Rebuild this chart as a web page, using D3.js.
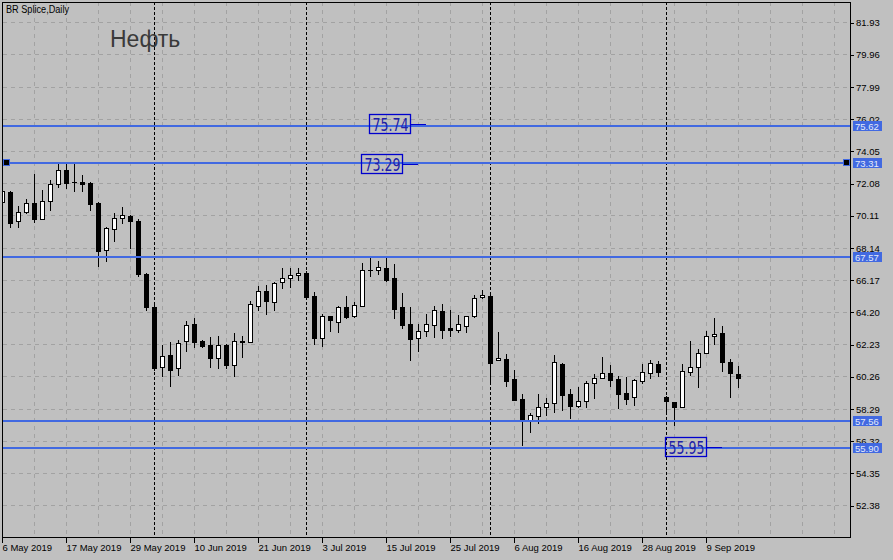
<!DOCTYPE html>
<html><head><meta charset="utf-8">
<script src="https://cdn.jsdelivr.net/npm/d3@7"></script>
<style>
html,body{margin:0;padding:0;background:#c0c0c0;overflow:hidden}
svg{display:block}
</style>
</head><body>
<svg id="chart" width="893" height="560"></svg>
<script>
// ---------------- DATA ----------------
const symbolTitle = "BR Splice,Daily";
const chartNote = "Нефть";
const openP  = [70.92,71.53,69.74,70.29,70.86,69.90,70.96,72.00,72.88,72.14,72.15,72.08,70.86,68.00,69.29,69.92,70.06,69.76,66.52,64.52,
                60.85,61.56,60.75,62.40,63.44,62.42,62.17,61.38,62.17,60.97,62.40,62.38,64.58,65.48,64.82,66.01,66.27,66.46,66.58,65.17,
                62.62,63.93,63.56,64.48,63.97,64.58,66.78,66.76,66.88,66.27,64.52,63.46,62.60,63.05,63.42,64.25,63.20,63.11,63.36,63.97,
                65.09,65.17,61.24,61.32,60.10,58.87,57.61,57.81,58.36,58.61,61.01,59.18,58.43,58.73,59.85,60.17,60.44,60.10,59.24,58.97,
                60.00,60.44,61.01,59.00,58.67,58.40,60.51,60.81,61.67,62.71,62.91,61.15,60.40];
const highP  = [71.75,71.60,70.70,71.10,72.63,71.66,72.27,73.35,73.30,73.35,72.57,72.14,70.90,69.37,70.23,70.60,70.10,69.88,66.60,64.62,
                62.17,62.34,62.50,63.66,63.83,62.48,62.65,62.70,62.24,62.91,62.71,64.85,65.80,65.84,66.01,66.86,66.90,66.88,66.70,65.43,
                64.07,63.95,64.58,65.19,64.82,67.19,67.54,67.31,67.48,67.13,65.36,64.48,63.46,64.07,64.54,64.68,64.32,64.03,63.95,65.23,
                65.54,65.23,62.95,61.62,60.66,59.18,58.02,59.18,58.93,61.56,61.07,59.48,59.63,59.95,60.40,61.42,60.94,60.30,60.24,60.09,
                61.01,61.26,61.22,59.06,58.69,61.01,62.40,61.93,63.01,63.83,63.32,61.32,60.87];
const lowP   = [70.75,69.39,69.37,70.25,69.72,69.90,70.43,71.82,71.78,71.61,71.61,70.45,66.98,67.33,68.55,69.62,68.09,66.40,64.33,60.65,
                60.26,59.69,60.36,61.83,62.03,62.07,60.81,60.75,60.75,60.30,61.46,62.36,64.33,64.07,64.33,65.64,65.70,66.17,65.05,62.24,
                62.13,63.05,62.95,63.83,63.87,64.56,66.41,66.52,66.11,63.83,63.21,61.26,61.81,62.74,62.68,62.60,62.74,62.95,62.95,63.91,
                65.03,59.93,61.23,59.69,58.81,56.06,56.84,57.39,57.89,58.06,58.22,57.69,58.36,58.36,58.93,60.16,59.69,58.34,58.57,58.50,
                59.83,60.14,60.30,58.10,57.30,58.36,60.34,59.59,61.66,62.24,60.60,58.97,59.63];
const closeP = [71.60,69.65,70.29,70.86,69.90,70.96,72.02,72.88,72.08,72.12,72.04,70.82,67.94,69.31,69.92,70.13,69.74,66.52,64.48,60.77,
                61.48,60.66,62.30,63.40,62.38,62.13,61.40,62.15,60.95,62.42,62.36,64.68,65.46,64.88,65.97,66.27,66.46,66.58,65.13,62.62,
                63.93,63.72,64.48,63.91,64.62,66.76,66.74,66.93,66.15,64.38,63.40,62.54,63.05,63.46,64.32,63.11,63.11,63.44,63.93,65.03,
                65.21,61.07,61.38,60.00,58.83,57.57,57.88,58.36,58.61,61.12,59.13,58.43,58.73,59.83,60.14,60.44,60.05,59.20,58.89,60.03,
                60.51,61.05,60.51,58.73,58.40,60.56,60.81,61.67,62.71,62.85,61.12,60.44,60.17];
const dateLabels   = ["6 May 2019","17 May 2019","29 May 2019","10 Jun 2019","21 Jun 2019","3 Jul 2019",
                      "15 Jul 2019","25 Jul 2019","6 Aug 2019","16 Aug 2019","28 Aug 2019","9 Sep 2019"];
const dateLabelBar = [0,8,16,24,32,40,48,56,64,72,80,88];
const monthStartBar = [19,38,61,83];
const priceTicks = [81.93,79.96,77.99,76.02,74.05,72.08,70.11,68.14,66.17,64.20,62.23,60.26,58.29,56.32,54.35,52.38];
const levelPrices = [75.62,73.31,67.57,57.56,55.90];
const selectedLevel = 73.31;
const notePrices = [75.74,73.29,55.95];
const noteBars   = [46,45,83];

// ---------------- LAYOUT ----------------
const svg = d3.select("#chart");
const L = 2, R = 850, B = 537, T = 2;
const nBars = openP.length;
const x = d3.scaleLinear().domain([0,106]).range([2,850]);
const y = d3.scaleLinear().domain([52.38,81.93]).range([505.6,22.6]);
const row = v => Math.round(y(v) - 0.5);
const col = i => Math.round(x(i));

svg.append("rect").attr("width",893).attr("height",560).attr("fill","#c0c0c0");

const defs = svg.append("defs");
defs.append("clipPath").attr("id","plot").append("rect")
  .attr("x",L+1).attr("y",T+1).attr("width",R-L-1).attr("height",B-T-1);

const plot = svg.append("g").attr("clip-path","url(#plot)");

// grid
const gridCol = "#a2a2a2";
plot.append("g").selectAll("line").data(priceTicks).join("line")
  .attr("x1",L+1).attr("x2",R).attr("y1",d=>row(d)+0.5).attr("y2",d=>row(d)+0.5)
  .attr("stroke",gridCol).attr("stroke-dasharray","4,4");
plot.append("g").selectAll("line").data(d3.range(4,106,4)).join("line")
  .attr("x1",d=>col(d)+0.5).attr("x2",d=>col(d)+0.5).attr("y1",T).attr("y2",B)
  .attr("stroke",gridCol).attr("stroke-dasharray","4,4");

// month separators
plot.append("g").selectAll("line").data(monthStartBar).join("line")
  .attr("x1",d=>col(d)+0.5).attr("x2",d=>col(d)+0.5).attr("y1",T).attr("y2",B)
  .attr("stroke","#000").attr("stroke-dasharray","3,2");

// candles
const bars = d3.range(nBars).map(i=>({i,o:openP[i],h:highP[i],l:lowP[i],c:closeP[i]}));
const cg = plot.append("g");
bars.forEach(b=>{
  const cx = col(b.i) + 0.5;
  const g = cg.append("g");
  g.append("line").attr("x1",cx).attr("x2",cx)
    .attr("y1",row(b.h)).attr("y2",row(b.l)+1).attr("stroke","#000");
  const top = row(Math.max(b.o,b.c)), bot = row(Math.min(b.o,b.c));
  if (bot - top < 1) {
    g.append("line").attr("x1",cx-2.5).attr("x2",cx+2.5)
      .attr("y1",top+0.5).attr("y2",top+0.5).attr("stroke","#000");
  } else {
    g.append("rect").attr("x",cx-2).attr("y",top+0.5).attr("width",4).attr("height",bot-top)
      .attr("fill", b.c >= b.o ? "#fff" : "#000").attr("stroke","#000");
  }
});

// horizontal levels
const blue = "#4169e1";
plot.append("g").selectAll("line").data(levelPrices).join("line")
  .attr("x1",L).attr("x2",R).attr("y1",d=>Math.round(y(d))).attr("y2",d=>Math.round(y(d)))
  .attr("stroke",blue).attr("stroke-width",2);

// selection squares
[L+1, R-7].forEach(sx=>{
  svg.append("rect").attr("x",sx+0.5).attr("y",Math.round(y(selectedLevel))-3.5)
    .attr("width",6).attr("height",6).attr("fill","#000").attr("stroke",blue);
});

// notes (price text boxes)
notePrices.forEach((p,k)=>{
  const bx = col(noteBars[k]) - 1, yy = Math.round(y(p));
  const g = svg.append("g");
  g.append("line").attr("x1",bx+41).attr("x2",bx+57).attr("y1",yy+0.5).attr("y2",yy+0.5)
    .attr("stroke","#0000cd");
  g.append("rect").attr("x",bx+0.5).attr("y",yy-9.5).attr("width",41).attr("height",19)
    .attr("fill","none").attr("stroke","#0000cd").attr("stroke-width",1.3);
  g.append("text").attr("x",bx+3.5).attr("y",yy+6.5).text(p.toFixed(2))
    .attr("font-family","'Liberation Sans Narrow','DejaVu Sans Condensed','Liberation Sans',Arial,sans-serif")
    .attr("font-size",17).attr("fill","#2020a8")
    .attr("textLength",36).attr("lengthAdjust","spacingAndGlyphs");
});

// frame
svg.append("line").attr("x1",L+0.5).attr("x2",L+0.5).attr("y1",T).attr("y2",B+1).attr("stroke","#000");
svg.append("line").attr("x1",R+0.5).attr("x2",R+0.5).attr("y1",T).attr("y2",B+1).attr("stroke","#000");
svg.append("line").attr("x1",L).attr("x2",R+1).attr("y1",B+0.5).attr("y2",B+0.5).attr("stroke","#000");
svg.append("line").attr("x1",L).attr("x2",R+1).attr("y1",T+0.5).attr("y2",T+0.5).attr("stroke","#000");

const axisFont = "'Liberation Sans',Arial,sans-serif";
// price axis
const yAxis = d3.axisRight(y).tickValues(priceTicks).tickSize(4).tickSizeOuter(0).tickPadding(2)
  .tickFormat(d3.format(".2f"));
const ya = svg.append("g").attr("transform",`translate(${R},0)`).call(yAxis);
ya.select(".domain").remove();
ya.selectAll(".tick line").attr("stroke","#000").attr("shape-rendering","crispEdges");
ya.selectAll(".tick text").attr("font-family",axisFont).attr("font-size",9.5).attr("fill","#000");

// time axis
const xAxis = d3.axisBottom(x).tickValues(dateLabelBar).tickSize(6).tickSizeOuter(0).tickPadding(1)
  .tickFormat((d,i)=>dateLabels[i]);
const xa = svg.append("g").attr("transform",`translate(0,${B})`).call(xAxis);
xa.select(".domain").remove();
xa.selectAll(".tick line").attr("stroke","#000").attr("shape-rendering","crispEdges");
xa.selectAll(".tick text").attr("text-anchor","start").attr("x",0)
  .attr("font-family",axisFont).attr("font-size",9.5).attr("fill","#000");

// level price labels on axis
const lg = svg.append("g");
levelPrices.forEach(p=>{
  const yy = Math.round(y(p));
  lg.append("rect").attr("x",R+3).attr("y",yy-5).attr("width",29).attr("height",10).attr("fill",blue);
  lg.append("text").attr("x",R+5).attr("y",yy+3.5).text(p.toFixed(2))
    .attr("font-family",axisFont).attr("font-size",9.5).attr("fill","#e4e9f8");
});

// titles
svg.append("text").attr("x",6).attr("y",13).text(symbolTitle)
  .attr("font-family",axisFont).attr("font-size",10).attr("fill","#000")
  .attr("textLength",63).attr("lengthAdjust","spacingAndGlyphs");
svg.append("text").attr("x",110).attr("y",47).text(chartNote)
  .attr("font-family",axisFont).attr("font-size",23).attr("fill","#3a3a3a");
</script>
</body></html>
